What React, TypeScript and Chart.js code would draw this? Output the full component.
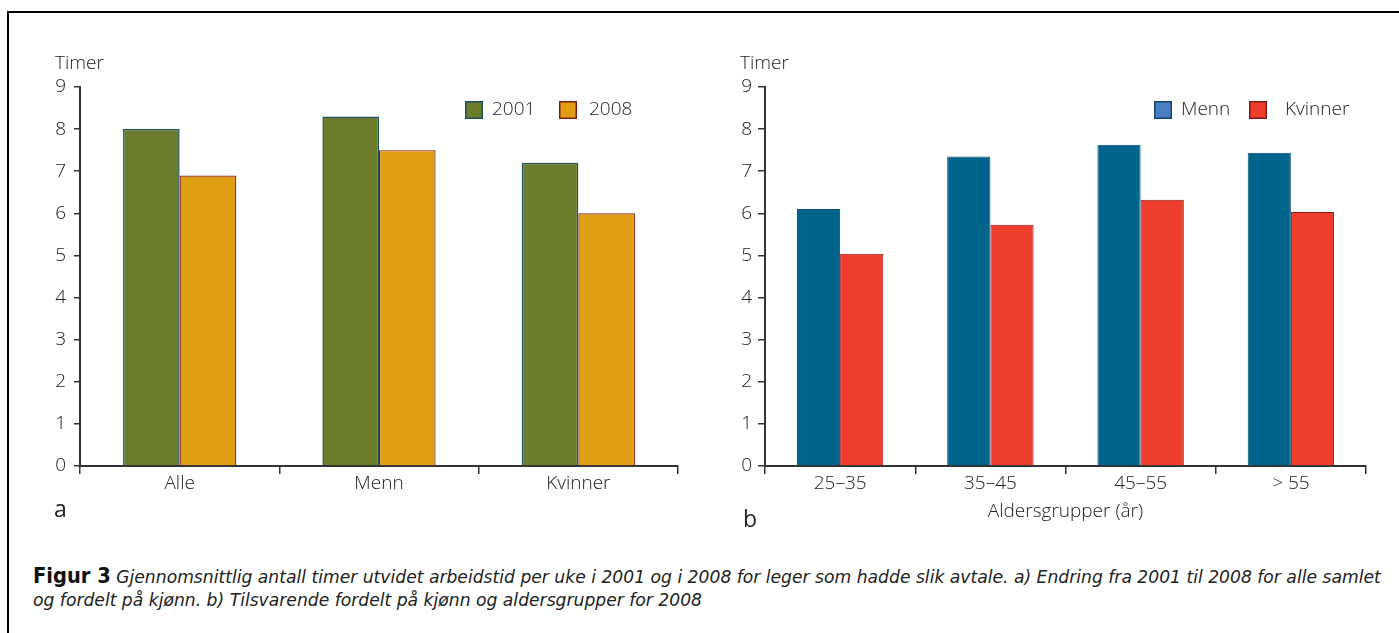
import React, { useEffect, useLayoutEffect, useRef } from 'react';
import { Chart, registerables } from 'chart.js';

Chart.register(...registerables);

// ---------- data ----------
const groupsA = ['Alle', 'Menn', 'Kvinner'];
const hours2001 = [8.0, 8.3, 7.2];
const hours2008 = [6.9, 7.5, 6.0];

const ageGroups = ['25–35', '35–45', '45–55', '> 55'];
const mennHours = [6.1, 7.35, 7.63, 7.44];
const kvinnerHours = [5.04, 5.73, 6.32, 6.03];

const yMin = 0;
const yMax = 9;
const yStep = 1;

const FONT = '"Open Sans", Roboto, sans-serif';
const FS = 19;
const TEXT = '#222';
const AXIS = '#333';

const boxLegend = {
  id: 'boxLegend',
  afterDraw(chart: any, _args: any, opts: any) {
    const ctx = chart.ctx;
    ctx.save();
    ctx.font = `300 ${FS}px ${FONT}`;
    ctx.textBaseline = 'middle';
    ctx.textAlign = 'left';
    chart.data.datasets.forEach((ds: any, i: number) => {
      const it = opts.items[i];
      ctx.fillStyle = it.fill;
      ctx.fillRect(it.x, opts.y, 18, 18);
      ctx.strokeStyle = it.stroke;
      ctx.lineWidth = 1.5;
      ctx.strokeRect(it.x + 0.75, opts.y + 0.75, 16.5, 16.5);
      ctx.fillStyle = TEXT;
      ctx.fillText(ds.label, it.x + 18 + it.gap, opts.y + 9);
    });
    ctx.fillText(opts.yTitle, chart.chartArea.left - 25, opts.titleY);
    ctx.restore();
  },
};

function makeOptions(cfg: {
  yWidth: number;
  padRight: number;
  yPad: number;
  yTick: number;
  xTitle?: string;
  legend: any;
}) {
  const tickFont = { family: FONT, size: FS, weight: '300' as any, lineHeight: 1 };
  return {
    animation: false as const,
    responsive: false,
    devicePixelRatio: 1,
    layout: { padding: { left: 0, right: cfg.padRight, top: 87, bottom: 0 } },
    plugins: {
      legend: { display: false },
      tooltip: { enabled: false },
      boxLegend: cfg.legend,
    },
    scales: {
      x: {
        grid: {
          display: true,
          drawOnChartArea: false,
          drawTicks: true,
          tickLength: 8,
          color: AXIS,
          lineWidth: 1.5,
          offset: true,
        },
        border: { display: true, color: AXIS, width: 2 },
        ticks: { color: TEXT, font: tickFont, padding: 0, maxRotation: 0, autoSkip: false },
        title: cfg.xTitle
          ? {
              display: true,
              text: cfg.xTitle,
              color: TEXT,
              font: { family: FONT, size: FS, weight: '300' as any, lineHeight: 1.2 },
              padding: { top: 0, bottom: 17 },
            }
          : { display: false },
        afterFit: (s: any) => {
          s.height = 74;
        },
      },
      y: {
        min: yMin,
        max: yMax,
        ticks: { stepSize: yStep, color: TEXT, font: tickFont, padding: cfg.yPad },
        grid: {
          drawOnChartArea: false,
          drawTicks: true,
          tickLength: cfg.yTick,
          color: AXIS,
          lineWidth: 1.5,
        },
        border: { display: true, color: AXIS, width: 2 },
        afterFit: (s: any) => {
          s.width = cfg.yWidth;
        },
      },
    },
  };
}

function ChartA() {
  const ref = useRef<HTMLCanvasElement>(null);
  useEffect(() => {
    const chart = new Chart(ref.current!, {
      type: 'bar',
      data: {
        labels: groupsA,
        datasets: [
          {
            label: '2001',
            data: hours2001,
            backgroundColor: '#6b7d2a',
            borderColor: '#1f4f62',
            borderWidth: 1.5,
            categoryPercentage: 0.568,
            barPercentage: 1,
          },
          {
            label: '2008',
            data: hours2008,
            backgroundColor: '#e09e14',
            borderColor: '#7e1c14',
            borderWidth: 1.2,
            categoryPercentage: 0.568,
            barPercentage: 1,
          },
        ],
      },
      options: makeOptions({
        yWidth: 80,
        padRight: 22,
        yPad: 8,
        yTick: 6,
        legend: {
          y: 101,
          titleY: 64,
          yTitle: 'Timer',
          items: [
            { x: 465, gap: 9, fill: '#6b7d2a', stroke: '#1f4f62' },
            { x: 559, gap: 12, fill: '#e09e14', stroke: '#7e1c14' },
          ],
        },
      }) as any,
      plugins: [boxLegend],
    });
    return () => chart.destroy();
  }, []);
  return (
    <canvas
      ref={ref}
      width={700}
      height={540}
      style={{ position: 'absolute', left: 0, top: 0, width: 700, height: 540 }}
    />
  );
}

function ChartB() {
  const ref = useRef<HTMLCanvasElement>(null);
  useEffect(() => {
    const chart = new Chart(ref.current!, {
      type: 'bar',
      data: {
        labels: ageGroups,
        datasets: [
          {
            label: 'Menn',
            data: mennHours,
            backgroundColor: '#00638c',
            borderColor: '#0a4f6e',
            borderWidth: 1,
            categoryPercentage: 0.575,
            barPercentage: 1,
          },
          {
            label: 'Kvinner',
            data: kvinnerHours,
            backgroundColor: '#ef3e2e',
            borderColor: '#8a1c14',
            borderWidth: 1,
            categoryPercentage: 0.575,
            barPercentage: 1,
          },
        ],
      },
      options: makeOptions({
        yWidth: 65,
        padRight: 33,
        yPad: 6,
        yTick: 7,
        xTitle: 'Aldersgrupper (år)',
        legend: {
          y: 101,
          titleY: 64,
          yTitle: 'Timer',
          items: [
            { x: 454, gap: 9, fill: '#4a7fc1', stroke: '#13466a' },
            { x: 549, gap: 18, fill: '#ef3e2e', stroke: '#7e1c14' },
          ],
        },
      }) as any,
      plugins: [boxLegend],
    });
    return () => chart.destroy();
  }, []);
  return (
    <canvas
      ref={ref}
      width={699}
      height={540}
      style={{ position: 'absolute', left: 700, top: 0, width: 699, height: 540 }}
    />
  );
}

function Caption() {
  const ref = useRef<HTMLDivElement>(null);
  const line1 = useRef<HTMLDivElement>(null);
  useLayoutEffect(() => {
    const el = ref.current!;
    const l1 = line1.current!;
    el.style.transform = 'none';
    const w = l1.scrollWidth;
    const target = 1348;
    el.style.transform = `scaleX(${target / w})`;
  }, []);
  const italic: React.CSSProperties = {
    fontStyle: 'italic',
    fontWeight: 300,
    color: '#222',
  };
  return (
    <div
      ref={ref}
      style={{
        position: 'absolute',
        left: 33,
        top: 565,
        fontFamily: '"DejaVu Sans Condensed", "DejaVu Sans", sans-serif',
        fontSize: 18.5,
        lineHeight: '23px',
        whiteSpace: 'nowrap',
        transformOrigin: '0 0',
      }}
    >
      <div ref={line1} style={{ display: 'inline-block' }}>
        <span style={{ fontWeight: 'bold', fontSize: 21, color: '#111' }}>Figur 3</span>
        <span style={italic}>
          {'  '}Gjennomsnittlig antall timer utvidet arbeidstid per uke i 2001 og i 2008 for leger som hadde slik avtale. a) Endring fra 2001 til 2008 for alle samlet
        </span>
      </div>
      <div style={italic}>og fordelt på kjønn. b) Tilsvarende fordelt på kjønn og aldersgrupper for 2008</div>
    </div>
  );
}

export default function App() {
  return (
    <div
      style={{
        position: 'absolute',
        left: 0,
        top: 0,
        width: 1399,
        height: 633,
        overflow: 'hidden',
        background: '#fff',
      }}
    >
      <div
        style={{
          position: 'absolute',
          left: 7,
          top: 11,
          width: 1400,
          height: 640,
          borderLeft: '2px solid #000',
          borderTop: '2px solid #000',
        }}
      />
      <ChartA />
      <ChartB />
      <div
        style={{
          position: 'absolute',
          left: 54,
          top: 494,
          fontFamily: FONT,
          fontSize: 23,
          lineHeight: '28px',
          color: '#222',
        }}
      >
        a
      </div>
      <div
        style={{
          position: 'absolute',
          left: 743,
          top: 504,
          fontFamily: FONT,
          fontSize: 23,
          lineHeight: '28px',
          color: '#222',
        }}
      >
        b
      </div>
      <Caption />
    </div>
  );
}
